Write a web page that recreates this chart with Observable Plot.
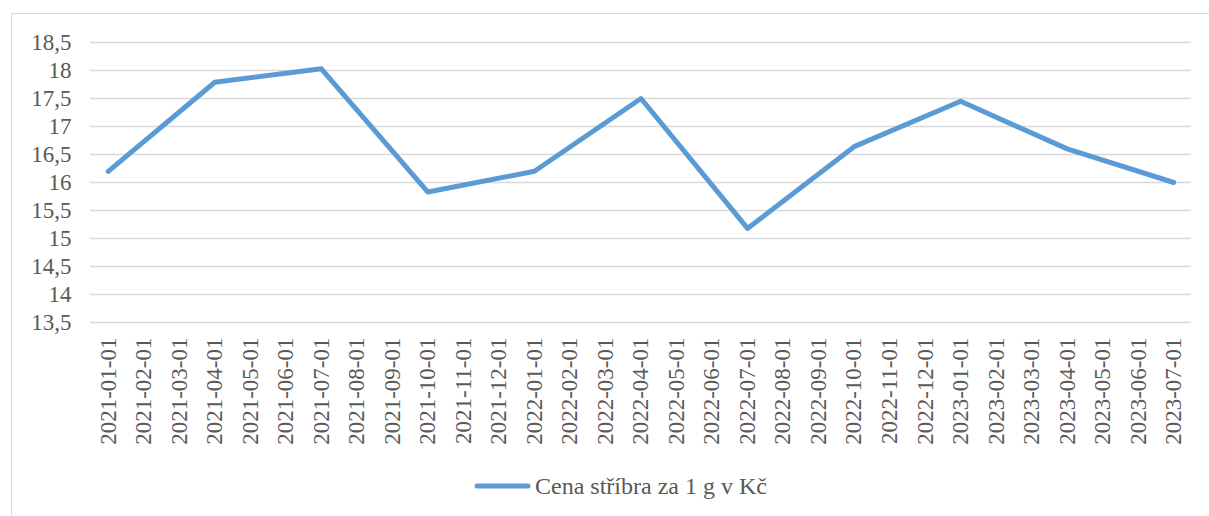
<!DOCTYPE html>
<html>
<head>
<meta charset="utf-8">
<script src="https://cdn.jsdelivr.net/npm/d3@7"></script>
<script src="https://cdn.jsdelivr.net/npm/@observablehq/plot@0.6"></script>
<style>
  html, body { margin: 0; padding: 0; background: #fff; width: 1209px; height: 516px; overflow: hidden; }
  #frame { position: absolute; left: 11px; top: 13px; width: 1210px; height: 520px; border: 1.5px solid #d9d9d9; box-sizing: border-box; }
  #chart { position: absolute; left: 0; top: 0; }
  #chart svg text { font-family: "Liberation Serif", "Times New Roman", serif; }
  #legend { position: absolute; left: 474px; top: 470px; height: 32px; display: flex; align-items: center; font-family: "Liberation Serif", "Times New Roman", serif; font-size: 24px; color: #595959; white-space: nowrap; }
  #legend svg { margin-right: 4px; }
</style>
</head>
<body>
<div id="frame"></div>
<div id="chart"></div>
<div id="legend"></div>
<script>
const months = [
  "2021-01-01","2021-02-01","2021-03-01","2021-04-01","2021-05-01","2021-06-01",
  "2021-07-01","2021-08-01","2021-09-01","2021-10-01","2021-11-01","2021-12-01",
  "2022-01-01","2022-02-01","2022-03-01","2022-04-01","2022-05-01","2022-06-01",
  "2022-07-01","2022-08-01","2022-09-01","2022-10-01","2022-11-01","2022-12-01",
  "2023-01-01","2023-02-01","2023-03-01","2023-04-01","2023-05-01","2023-06-01",
  "2023-07-01"
];
// Values only given quarterly in the source chart (line drawn straight between them)
const prices = [
  16.2, null, null, 17.79, null, null,
  18.03, null, null, 15.83, null, null,
  16.2, null, null, 17.5, null, null,
  15.18, null, null, 16.64, null, null,
  17.45, null, null, 16.6, null, null,
  16.0
];
const seriesName = "Cena stříbra za 1 g v Kč";
const yTicks = [13.5, 14, 14.5, 15, 15.5, 16, 16.5, 17, 17.5, 18, 18.5];

const data = months.map((m, i) => ({month: m, price: prices[i]})).filter(d => d.price != null);

const lineColor = "#5B9BD5";
const textColor = "#595959";
const serif = "Liberation Serif";
const fmt = d => String(d).replace(".", ",");

const chart = Plot.plot({
  width: 1209,
  height: 460,
  marginTop: 42,
  marginBottom: 138,
  marginLeft: 90,
  marginRight: 18,
  style: {fontSize: "23px", color: textColor, background: "transparent"},
  x: {type: "point", domain: months, padding: 0.5, round: false},
  y: {domain: [13.5, 18.5], ticks: yTicks},
  marks: [
    Plot.ruleY(yTicks, {stroke: "#d9d9d9", strokeWidth: 1.5, strokeOpacity: 1}),
    Plot.axisY({ticks: yTicks, tickFormat: fmt, tickSize: 0, tickPadding: 19, label: null, fill: textColor, fontSize: 23, fontFamily: serif}),
    Plot.axisX({tickRotate: -90, tickSize: 0, tickPadding: 15, label: null, fill: textColor, fontSize: 23, fontFamily: serif}),
    Plot.line(data, {x: "month", y: "price", stroke: lineColor, strokeWidth: 5, strokeLinecap: "round", strokeLinejoin: "round"})
  ]
});
document.getElementById("chart").appendChild(chart);

const legend = document.getElementById("legend");
legend.innerHTML = `<svg width="57" height="10"><line x1="3" y1="5" x2="54" y2="5" stroke="${lineColor}" stroke-width="5" stroke-linecap="round"/></svg><span>${seriesName}</span>`;
</script>
</body>
</html>
